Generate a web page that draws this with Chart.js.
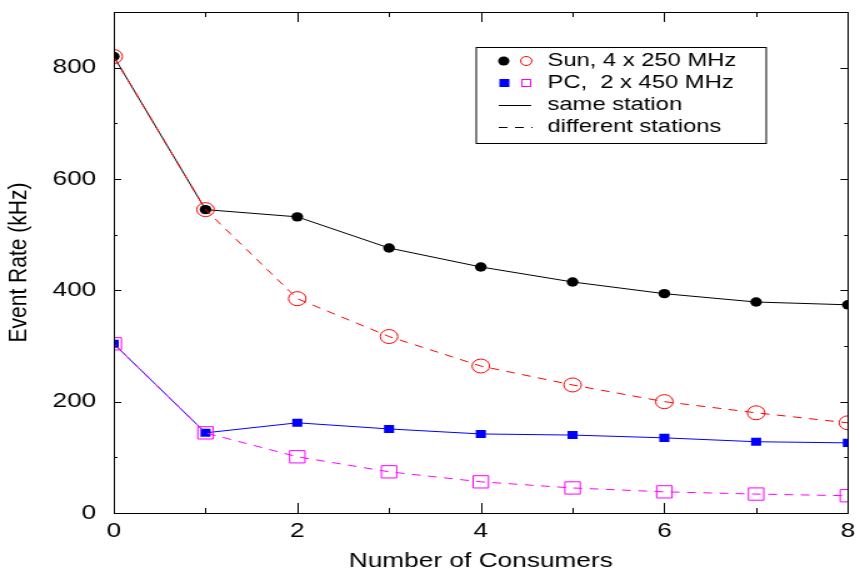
<!DOCTYPE html>
<html>
<head>
<meta charset="utf-8">
<script src="https://cdn.jsdelivr.net/npm/chart.js@4"></script>
<style>
  html, body { margin: 0; padding: 0; background: #fff; overflow: hidden; }
  /* the original figure is stretched sideways by about 1.25 */
  #wrap { width: 688px; height: 574px; transform: scaleX(1.25); transform-origin: 0 0; }
</style>
</head>
<body>
<div id="wrap"><canvas id="chart" width="688" height="574"></canvas></div>
<script>
// number of consumers
const consumers = [0, 1, 2, 3, 4, 5, 6, 7, 8];
// event rate in kHz
const sun_same = [820, 545, 532, 476, 442, 415, 394, 379, 374];
const sun_diff = [820, 545, 385, 317, 264, 230, 200, 180, 162];
const pc_same = [304, 144, 162, 151, 142, 140, 135, 128, 126];
const pc_diff = [304, 144, 101, 74, 56, 45, 38, 34, 31];

const x_ticks = [0, 2, 4, 6, 8];
const y_ticks = [0, 200, 400, 600, 800];

const legend_rows = [
  "Sun, 4 x 250 MHz",
  "PC,  2 x 450 MHz",
  "same station",
  "different stations",
];

const font_name = "'Liberation Sans', Arial, sans-serif";

function to_points(values) {
  return consumers.map(function(x, i) { return {x: x, y: values[i]}; });
}

// inward ticks on all four sides, like the original plot
const tick_plugin = {
  id: "inner_ticks",
  afterDraw(chart) {
    const ctx = chart.ctx;
    const area = chart.chartArea;
    const xs = chart.scales.x;
    const ys = chart.scales.y;
    ctx.save();
    ctx.strokeStyle = "#000";
    ctx.lineWidth = 1;
    ctx.beginPath();
    for (let v = 1; v < 8; v++) {
      const len = v % 2 === 0 ? 10 : 5;
      const px = Math.round(xs.getPixelForValue(v)) + 0.5;
      ctx.moveTo(px, area.bottom);
      ctx.lineTo(px, area.bottom - len);
      ctx.moveTo(px, area.top);
      ctx.lineTo(px, area.top + len);
    }
    for (let v = 100; v < 900; v += 100) {
      const len = v % 200 === 0 ? 6 : 3;
      const py = Math.round(ys.getPixelForValue(v)) + 0.5;
      ctx.moveTo(area.left, py);
      ctx.lineTo(area.left + len, py);
      ctx.moveTo(area.right, py);
      ctx.lineTo(area.right - len, py);
    }
    ctx.stroke();
    ctx.strokeRect(Math.round(area.left) + 0.5, Math.round(area.top) + 0.5,
                   Math.round(area.right - area.left), Math.round(area.bottom - area.top));
    ctx.restore();
  }
};

// legend box with two markers per machine row
const legend_plugin = {
  id: "box_legend",
  afterDraw(chart) {
    const ctx = chart.ctx;
    ctx.save();
    ctx.fillStyle = "#fff";
    ctx.fillRect(381, 47, 232, 96);
    ctx.strokeStyle = "#000";
    ctx.lineWidth = 1;
    ctx.strokeRect(381, 47.5, 232, 96);

    const rows_y = [61, 83, 105, 127];
    // row 1: circles
    ctx.fillStyle = "#000";
    ctx.beginPath();
    ctx.arc(403, rows_y[0], 4.5, 0, Math.PI * 2);
    ctx.fill();
    ctx.strokeStyle = "#ff0000";
    ctx.beginPath();
    ctx.arc(421, rows_y[0], 4.5, 0, Math.PI * 2);
    ctx.stroke();
    // row 2: squares
    ctx.fillStyle = "#0000ff";
    ctx.fillRect(399.5, rows_y[1] - 4, 8, 8);
    ctx.strokeStyle = "#ff00ff";
    ctx.strokeRect(417.5, rows_y[1] - 3.5, 7, 7);
    // rows 3 and 4: line styles
    ctx.strokeStyle = "#000";
    ctx.beginPath();
    ctx.moveTo(399, rows_y[2] + 0.5);
    ctx.lineTo(425, rows_y[2] + 0.5);
    ctx.stroke();
    ctx.setLineDash([7, 6]);
    ctx.beginPath();
    ctx.moveTo(399, rows_y[3] + 0.5);
    ctx.lineTo(426, rows_y[3] + 0.5);
    ctx.stroke();
    ctx.setLineDash([]);

    ctx.fillStyle = "#000";
    ctx.font = "19px " + font_name;
    ctx.textBaseline = "middle";
    ctx.textAlign = "left";
    legend_rows.forEach(function(label, i) {
      ctx.fillText(label, 438, rows_y[i]);
    });
    ctx.restore();
  }
};

function make_chart() {
  const canvas = document.querySelector("#chart");
  new Chart(canvas, {
    type: "line",
    data: {
      datasets: [
        {
          label: legend_rows[0] + " different",
          data: to_points(sun_diff),
          borderColor: "#ff0000",
          borderWidth: 1,
          borderDash: [7, 6],
          pointStyle: "circle",
          pointRadius: 7,
          pointBorderWidth: 1,
          pointBorderColor: "#ff0000",
          pointBackgroundColor: "rgba(255,255,255,0)",
        },
        {
          label: legend_rows[0] + " same",
          data: to_points(sun_same),
          borderColor: "#000000",
          borderWidth: 1,
          pointStyle: "circle",
          pointRadius: 4.7,
          pointBorderWidth: 0,
          pointBackgroundColor: "#000000",
        },
        {
          label: legend_rows[1] + " different",
          data: to_points(pc_diff),
          borderColor: "#ff00ff",
          borderWidth: 1,
          borderDash: [7, 6],
          pointStyle: "rect",
          pointRadius: 8.7,
          pointBorderWidth: 1,
          pointBorderColor: "#ff00ff",
          pointBackgroundColor: "rgba(255,255,255,0)",
        },
        {
          label: legend_rows[1] + " same",
          data: to_points(pc_same),
          borderColor: "#0000ff",
          borderWidth: 1,
          pointStyle: "rect",
          pointRadius: 5.7,
          pointBorderWidth: 0,
          pointBackgroundColor: "#0000ff",
        },
      ]
    },
    options: {
      responsive: false,
      animation: false,
      layout: {
        padding: {top: 12, right: 6, left: 0, bottom: 0}
      },
      plugins: {
        legend: {display: false},
        tooltip: {enabled: false},
      },
      scales: {
        x: {
          type: "linear",
          min: 0,
          max: 8,
          afterBuildTicks: function(scale) {
            scale.ticks = x_ticks.map(function(v) { return {value: v}; });
          },
          afterFit: function(scale) {
            scale.height = 61;
            scale.paddingLeft = 0;
            scale.paddingRight = 0;
          },
          grid: {display: false, drawTicks: false},
          border: {display: false},
          ticks: {
            color: "#000",
            padding: 6,
            font: {family: font_name, size: 21},
          },
          title: {
            display: true,
            text: "Number of Consumers",
            color: "#000",
            font: {family: font_name, size: 21},
            padding: {top: 0, bottom: 0},
          },
        },
        y: {
          type: "linear",
          min: 0,
          max: 900,
          afterBuildTicks: function(scale) {
            scale.ticks = y_ticks.map(function(v) { return {value: v}; });
          },
          afterFit: function(scale) {
            scale.width = 91;
            scale.paddingTop = 0;
            scale.paddingBottom = 0;
          },
          grid: {display: false, drawTicks: false},
          border: {display: false},
          ticks: {
            color: "#000",
            padding: 14,
            font: {family: font_name, size: 21},
          },
          title: {
            display: true,
            text: "Event Rate (kHz)",
            color: "#000",
            font: {family: font_name, size: 21},
            padding: {top: 3, bottom: 0},
          },
        },
      },
    },
    plugins: [tick_plugin, legend_plugin],
  });
}

make_chart();
</script>
</body>
</html>
